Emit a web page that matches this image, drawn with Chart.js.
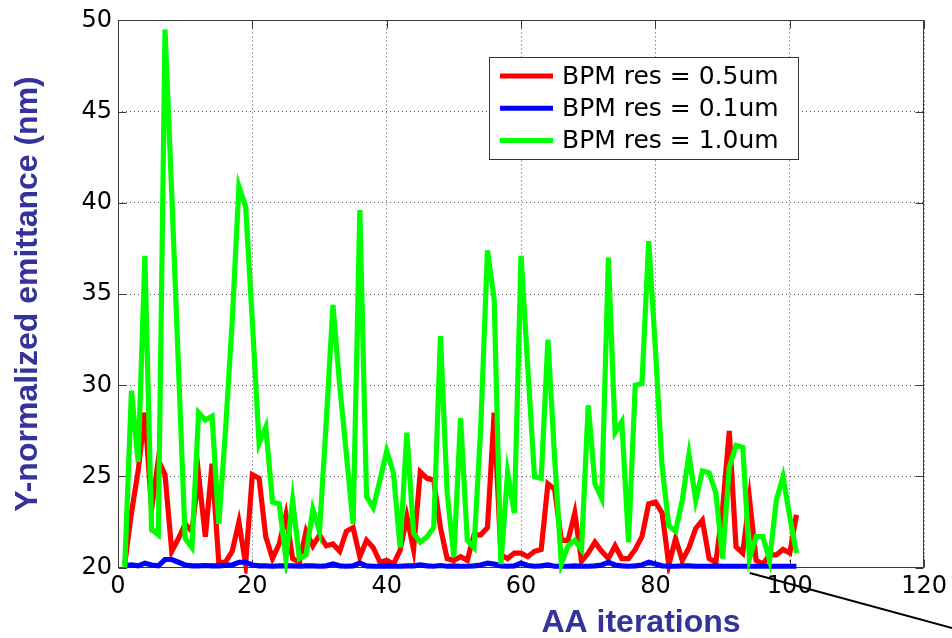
<!DOCTYPE html>
<html>
<head>
<meta charset="utf-8">
<script src="https://cdn.jsdelivr.net/npm/chart.js@4.4.1/dist/chart.umd.min.js"></script>
<style>
  html, body { margin: 0; padding: 0; background: #ffffff; overflow: hidden; }
  #wrap { width: 952px; height: 638px; position: relative; }
</style>
</head>
<body>
<div id="wrap"><canvas id="chart" width="952" height="638"></canvas></div>
<script>
// Alignment iterations (x) and normalized vertical emittance (nm) per BPM resolution
const iterations = [
  1, 2, 3, 4, 5, 6, 7, 8, 9, 10, 11, 12, 13, 14, 15, 16, 17, 18, 19, 20,
  21, 22, 23, 24, 25, 26, 27, 28, 29, 30, 31, 32, 33, 34, 35, 36, 37, 38, 39, 40,
  41, 42, 43, 44, 45, 46, 47, 48, 49, 50, 51, 52, 53, 54, 55, 56, 57, 58, 59, 60,
  61, 62, 63, 64, 65, 66, 67, 68, 69, 70, 71, 72, 73, 74, 75, 76, 77, 78, 79, 80,
  81, 82, 83, 84, 85, 86, 87, 88, 89, 90, 91, 92, 93, 94, 95, 96, 97, 98, 99, 100,
  101
];

const emitRes05 = [
  20.2, 23.0, 25.3, 28.5, 23.2, 25.9, 25.1, 20.9, 21.6, 22.4,
  22.0, 25.1, 21.7, 25.7, 20.3, 20.3, 20.9, 22.5, 20.2, 25.1,
  24.9, 21.7, 20.5, 21.3, 22.9, 20.5, 20.3, 22.0, 21.2, 21.8,
  21.2, 21.3, 20.9, 22.0, 22.2, 20.6, 21.5, 21.1, 20.3, 20.4,
  20.2, 20.95, 22.8, 21.0, 25.25, 24.9, 24.8, 22.2, 20.5, 20.4,
  20.6, 20.4, 21.8, 21.8, 22.2, 28.5, 20.7, 20.5, 20.8, 20.8,
  20.6, 20.9, 21.0, 24.6, 24.3, 21.5, 21.5, 23.0, 20.35, 20.8,
  21.4, 20.9, 20.5, 21.2, 20.5, 20.5, 21.0, 21.7, 23.5, 23.6,
  23.0, 20.15, 21.6, 20.4, 21.1, 22.15, 22.6, 20.5, 20.3, 23.2,
  27.5, 21.15, 20.8, 23.8, 20.4, 20.2, 20.7, 20.7, 21.0, 20.8,
  22.9
];

const emitRes01 = [
  20.1, 20.15, 20.1, 20.25, 20.15, 20.1, 20.45, 20.45, 20.3, 20.15,
  20.1, 20.1, 20.12, 20.1, 20.1, 20.12, 20.15, 20.3, 20.3, 20.15,
  20.1, 20.1, 20.08, 20.1, 20.1, 20.1, 20.08, 20.1, 20.1, 20.08,
  20.1, 20.2, 20.1, 20.08, 20.1, 20.25, 20.1, 20.08, 20.08, 20.1,
  20.08, 20.08, 20.1, 20.1, 20.15, 20.1, 20.08, 20.12, 20.08, 20.1,
  20.08, 20.08, 20.1, 20.15, 20.25, 20.2, 20.1, 20.08, 20.1, 20.25,
  20.12, 20.08, 20.1, 20.15, 20.08, 20.08, 20.08, 20.1, 20.08, 20.08,
  20.1, 20.15, 20.3, 20.15, 20.1, 20.08, 20.1, 20.15, 20.3, 20.2,
  20.1, 20.08, 20.08, 20.1, 20.1, 20.08, 20.08, 20.08, 20.1, 20.08,
  20.08, 20.08, 20.08, 20.08, 20.08, 20.08, 20.08, 20.08, 20.08, 20.08,
  20.08
];

const emitRes10 = [
  20.0, 29.7, 25.8, 37.1, 22.1, 21.8, 49.5, 40.5, 31.0, 21.6,
  21.1, 28.5, 28.1, 28.3, 22.4, 27.5, 33.5, 40.9, 39.8, 33.5,
  26.8, 27.7, 23.6, 23.5, 20.5, 23.7, 20.5, 20.7, 23.2, 22.0,
  28.0, 34.4, 30.0, 26.2, 22.4, 39.6, 23.9, 23.3, 24.8, 26.4,
  25.2, 21.1, 27.4, 21.9, 21.4, 21.7, 22.2, 32.7, 24.1, 20.6,
  28.2, 21.5, 21.1, 27.7, 37.4, 34.7, 20.2, 25.2, 23.0, 37.1,
  31.0, 25.0, 24.9, 32.5, 26.0, 20.2, 21.2, 21.5, 21.0, 28.9,
  24.6, 23.8, 37.0, 27.4, 28.0, 21.4, 30.0, 30.1, 37.9, 32.0,
  25.5, 22.3, 22.0, 23.7, 26.2, 23.7, 25.3, 25.2, 24.1, 20.5,
  25.5, 26.7, 26.6, 20.5, 21.7, 21.7, 20.4, 23.7, 25.0, 22.8,
  20.8
];

const seriesLabels = ['BPM res = 0.5um', 'BPM res = 0.1um', 'BPM res = 1.0um'];
const xTickValues = [0, 20, 40, 60, 80, 100, 120];
const yTickValues = [20, 25, 30, 35, 40, 45, 50];
const xAxisTitle = 'AA iterations';
const yAxisTitle = 'Y-normalized emittance (nm)';

const TITLE_BLUE = '#33339b';
const TICK_FONT = { family: "'DejaVu Sans', sans-serif", size: 24 };
const TITLE_FONT = { family: "'Liberation Sans', Arial, sans-serif", size: 32, weight: 'bold' };

function toPoints(values) {
  return iterations.map((it, i) => ({ x: it, y: values[i] }));
}

// Axes box with inward tick marks on all four sides
const axesFrame = {
  id: 'axesFrame',
  beforeDatasetsDraw(chart) {
    const { ctx, scales: { x, y } } = chart;
    const L = Math.round(x.getPixelForValue(0)) + 0.5;
    const R = Math.round(x.getPixelForValue(120)) - 0.5;
    const T = Math.round(y.getPixelForValue(50)) + 0.5;
    const B = Math.round(y.getPixelForValue(20)) - 0.5;
    const tick = 8;
    ctx.save();
    ctx.setLineDash([]);
    ctx.strokeStyle = '#3a3a3a';
    ctx.lineWidth = 1;
    ctx.strokeRect(L, T, R - L, B - T);
    ctx.beginPath();
    xTickValues.forEach(v => {
      const px = Math.round(x.getPixelForValue(v)) + 0.5;
      ctx.moveTo(px, B); ctx.lineTo(px, B - tick);
      ctx.moveTo(px, T); ctx.lineTo(px, T + tick);
    });
    yTickValues.forEach(v => {
      const py = Math.round(y.getPixelForValue(v)) + 0.5;
      ctx.moveTo(L, py); ctx.lineTo(L + tick, py);
      ctx.moveTo(R, py); ctx.lineTo(R - tick, py);
    });
    ctx.stroke();
    ctx.restore();
  }
};

// Boxed legend inside the axes, built from the datasets
const boxedLegend = {
  id: 'boxedLegend',
  afterDatasetsDraw(chart) {
    const { ctx } = chart;
    const box = { left: 489.5, top: 57.5, width: 309, height: 102 };
    const rowY = [76, 108.3, 140.6];
    ctx.save();
    ctx.fillStyle = '#ffffff';
    ctx.fillRect(box.left, box.top, box.width, box.height);
    ctx.strokeStyle = '#333333';
    ctx.lineWidth = 1;
    ctx.setLineDash([]);
    ctx.strokeRect(box.left, box.top, box.width, box.height);
    chart.data.datasets.forEach((ds, i) => {
      const yy = rowY[i];
      ctx.strokeStyle = ds.borderColor;
      ctx.lineWidth = 5;
      ctx.beginPath();
      ctx.moveTo(500, yy);
      ctx.lineTo(553, yy);
      ctx.stroke();
      ctx.fillStyle = '#000000';
      ctx.font = "25px 'DejaVu Sans', sans-serif";
      ctx.textAlign = 'left';
      ctx.textBaseline = 'middle';
      ctx.fillText(ds.label, 562, yy + 1);
    });
    ctx.restore();
  }
};

// Horizontal axis title and the pointer line crossing the lower right corner
const extras = {
  id: 'extras',
  afterDraw(chart) {
    const { ctx, scales: { x, y } } = chart;
    ctx.save();
    ctx.fillStyle = TITLE_BLUE;
    ctx.font = "bold 32px 'Liberation Sans', Arial, sans-serif";
    ctx.textAlign = 'center';
    ctx.textBaseline = 'middle';
    ctx.fillText(xAxisTitle, 641, 623);

    ctx.strokeStyle = '#000000';
    ctx.lineWidth = 2;
    ctx.beginPath();
    ctx.moveTo(x.getPixelForValue(94.05), y.getPixelForValue(19.71));
    ctx.lineTo(x.getPixelForValue(125.3), y.getPixelForValue(16.58));
    ctx.stroke();
    ctx.restore();
  }
};

new Chart(document.getElementById('chart'), {
  type: 'line',
  data: {
    datasets: [
      { label: seriesLabels[0], data: toPoints(emitRes05), borderColor: '#ff0000', order: 3 },
      { label: seriesLabels[1], data: toPoints(emitRes01), borderColor: '#0000ff', order: 2 },
      { label: seriesLabels[2], data: toPoints(emitRes10), borderColor: '#00ff00', order: 1 }
    ]
  },
  options: {
    responsive: false,
    animation: false,
    devicePixelRatio: 1,
    layout: { padding: { top: 19.5, right: 27, bottom: 0, left: 0 } },
    datasets: {
      line: {
        borderWidth: 5.2,
        pointRadius: 0,
        tension: 0,
        fill: false,
        clip: 6,
        borderJoinStyle: 'miter'
      }
    },
    plugins: {
      legend: { display: false },
      tooltip: { enabled: false },
      title: { display: false }
    },
    scales: {
      x: {
        type: 'linear',
        min: 0,
        max: 120,
        afterBuildTicks: s => { s.ticks = xTickValues.map(v => ({ value: v })); },
        afterFit: s => { s.height = 70.3; },
        ticks: { font: TICK_FONT, color: '#000000', padding: 5, maxRotation: 0, autoSkip: false },
        grid: { color: '#555555', lineWidth: 1, drawTicks: false },
        border: { display: false, dash: [1, 3] }
      },
      y: {
        type: 'linear',
        min: 20,
        max: 50,
        afterBuildTicks: s => { s.ticks = yTickValues.map(v => ({ value: v })); },
        afterFit: s => { s.width = 118; },
        ticks: { font: TICK_FONT, color: '#000000', padding: 6, autoSkip: false },
        grid: { color: '#555555', lineWidth: 1, drawTicks: false },
        border: { display: false, dash: [1, 3] },
        title: {
          display: true,
          text: yAxisTitle,
          color: TITLE_BLUE,
          font: TITLE_FONT,
          padding: { top: 9, bottom: 0 }
        }
      }
    }
  },
  plugins: [axesFrame, boxedLegend, extras]
});
</script>
</body>
</html>
